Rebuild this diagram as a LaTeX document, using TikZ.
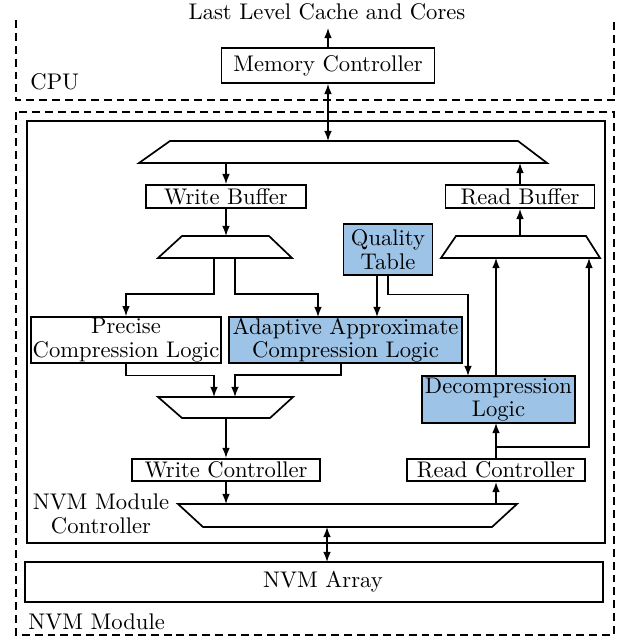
\documentclass[tikz,border=0pt]{standalone}
\usetikzlibrary{arrows.meta}
\definecolor{qblue}{RGB}{157,195,230}
\begin{document}
\begin{tikzpicture}[x=0.442pt,y=-0.442pt,
  box/.style={draw,line width=0.75pt,inner sep=0.5pt,rectangle},
  bluebox/.style={box,fill=qblue},
  twol/.style={align=center,font=\fontsize{10}{10.4}\selectfont},
  arr/.style={line width=0.6pt,-{Latex[length=4.5pt,width=3.4pt]}},
  darr/.style={line width=0.6pt,{Latex[length=4.5pt,width=3.4pt]}-{Latex[length=4.5pt,width=3.4pt]}},
  trap/.style={draw,line width=0.75pt,fill=white},
  dashline/.style={draw,line width=0.6pt,dash pattern=on 3.5pt off 2.2pt}
]
\useasboundingbox (0,0) rectangle (624,639);

% frames
\draw[dashline] (16,20) -- (16,100) -- (614,100) -- (614,20);
\draw[dashline] (16,112) rectangle (614,635);
\draw[line width=0.75pt] (27,121) rectangle (605,543);

% labels
\node (llc) at (327,12) {Last Level Cache and Cores};
\node[anchor=west,inner sep=0] (cpu) at (30,82) {CPU};
\node[twol] (nmc) at (101,514) {NVM Module\\Controller};
\node[anchor=west,inner sep=0] (nm) at (28,622) {NVM Module};

% boxes
\node[box,minimum width=94.1pt,minimum height=15.5pt] (mc) at (328,65.5) {Memory Controller};
\node[box,minimum width=70.7pt,minimum height=10.2pt] (wb) at (226,196.5) {Write Buffer};
\node[box,minimum width=65.9pt,minimum height=10.2pt] (rb) at (520,196.5) {Read Buffer};
\node[bluebox,twol,minimum width=39.3pt,minimum height=22.5pt] (qt) at (388,249.5) {Quality\\Table};
\node[box,twol,minimum width=84pt,minimum height=20.3pt] (pre) at (126,340) {Precise\\Compression Logic};
\node[bluebox,twol,minimum width=103pt,minimum height=20.3pt] (ad) at (345.5,340) {Adaptive Approximate\\Compression Logic};
\node[bluebox,twol,minimum width=67.6pt,minimum height=20.8pt] (dc) at (498.5,399.5) {Decompression\\Logic};
\node[box,minimum width=83.1pt,minimum height=9.9pt] (wc) at (226,470) {Write Controller};
\node[box,minimum width=78.7pt,minimum height=9.9pt] (rc) at (496,470) {Read Controller};
\node[box,minimum width=255.5pt,minimum height=17.7pt] (nvma) at (314,582) {};
\node (nvmt) at (323,582) {NVM Array};

% trapezoids
\draw[trap] (170,141) -- (518,141) -- (547,163) -- (139,163) -- cycle;
\draw[trap] (182,236) -- (269,236) -- (292,258) -- (158,258) -- cycle;
\draw[trap] (456,236) -- (586,236) -- (600,258) -- (441,258) -- cycle;
\draw[trap] (158,397) -- (293,397) -- (270,418) -- (182,418) -- cycle;
\draw[trap] (178,504) -- (517,504) -- (492,527) -- (203,527) -- cycle;

% ports
\coordinate (llcin) at (328,28);
\coordinate (t1top) at (328,141);
\coordinate (t1bl) at (226,163);
\coordinate (t1br) at (520,163);
\coordinate (t2top) at (226,236);
\coordinate (t2l) at (214,258);
\coordinate (t2r) at (235,258);
\coordinate (t3top) at (520,236);
\coordinate (t3l) at (496,258);
\coordinate (t3r) at (589,258);
\coordinate (adin) at (318,317);
\coordinate (qtout) at (377,275);
\coordinate (adin2) at (377,317);
\coordinate (dcin) at (468,376);
\coordinate (adout) at (341,363);
\coordinate (dcout) at (496,376);
\coordinate (dcbot) at (496,423);
\coordinate (t4l) at (214,397);
\coordinate (t4r) at (235,397);
\coordinate (t4b) at (226,418);
\coordinate (t5l) at (226,504);
\coordinate (t5r) at (496,504);
\coordinate (t5b) at (327,527);
\coordinate (nvmin) at (327,562);

% connectors
\draw[arr] (mc.north) -- (llcin);
\draw[darr] (mc.south) -- (t1top);
\draw[arr] (t1bl) -- (wb.north);
\draw[arr] (wb.south) -- (t2top);
\draw[arr] (t2l) -- ++(0,36) -| (pre.north);
\draw[arr] (t2r) -- ++(0,36) -| (adin);
\draw[arr] (qtout) -- (adin2);
\draw[arr] (qt.south) -- ++(0,19) -| (dcin);
\draw[arr] (pre.south) -- ++(0,12) -| (t4l);
\draw[arr] (adout) -- ++(0,12) -| (t4r);
\draw[arr] (t4b) -- (wc.north);
\draw[arr] (wc.south) -- (t5l);
\draw[arr] (t5r) -- (rc.south);
\draw[arr] (rc.north) -- (dcbot);
\draw[arr] (rc.north) -- ++(0,-11) -| (t3r);
\draw[arr] (dcout) -- (t3l);
\draw[arr] (t3top) -- (rb.south);
\draw[arr] (rb.north) -- (t1br);
\draw[darr] (t5b) -- (nvmin);
\end{tikzpicture}
\end{document}
